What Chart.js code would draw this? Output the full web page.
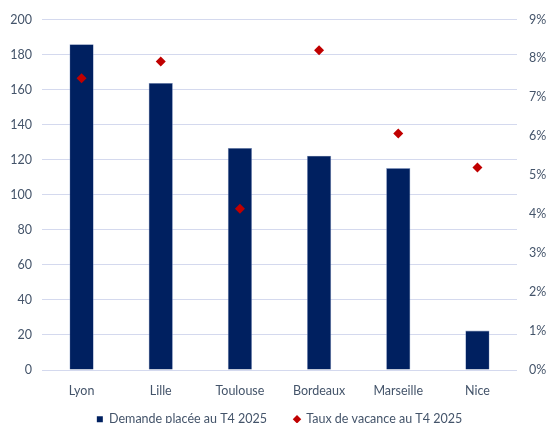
<!DOCTYPE html>
<html><head><meta charset="utf-8">
<script src="https://cdn.jsdelivr.net/npm/chart.js@4"></script>
<style>html,body{margin:0;padding:0;background:#fff}#wrap{width:547px;height:423px}</style>
</head><body><div id="wrap"><canvas id="c" width="547" height="423"></canvas></div>
<script>
const categories = ["Lyon", "Lille", "Toulouse", "Bordeaux", "Marseille", "Nice"];
const demande = [185.9, 163.8, 126.7, 122.3, 115.2, 22.5];
const vacance = [7.49, 7.92, 4.14, 8.21, 6.07, 5.2];
const seriesNames = ["Demande placée au T4 2025", "Taux de vacance au T4 2025"];

const tickColor = '#44546A';
const gridColor = '#D4D9EE';
const font = { family: 'Lato, "Open Sans", sans-serif', size: 12.5 };
const legendGap = 27;

const shiftLegend = {
  id: 'shiftLegend',
  beforeDraw(chart) {
    const lg = chart.legend;
    if (lg && !lg._shifted) {
      const ca = chart.chartArea;
      const dx = (ca.left + ca.right) / 2 - (lg.left + lg.right) / 2;
      lg.left += dx; lg.right += dx;
      lg.top = 413 - legendGap;
      lg.bottom = chart.height;
      lg._shifted = true;
    }
  }
};

new Chart(document.getElementById('c'), {
  data: {
    labels: categories,
    datasets: [
      { type: 'line', label: seriesNames[1], data: vacance, yAxisID: 'y1',
        showLine: false, pointStyle: 'rectRot', pointRadius: 5, pointHoverRadius: 5,
        backgroundColor: '#C00000', borderColor: '#C00000', borderWidth: 0, order: 0 },
      { type: 'bar', label: seriesNames[0], data: demande, yAxisID: 'y',
        backgroundColor: '#002060', borderColor: '#8EA0C8', borderWidth: 0.6,
        barPercentage: 0.6, categoryPercentage: 0.51, order: 1 }
    ]
  },
  plugins: [shiftLegend],
  options: {
    responsive: false, animation: false,
    layout: { padding: { top: 13, left: 0, right: 0, bottom: 0 } },
    plugins: {
      tooltip: { enabled: false },
      legend: { position: 'bottom', maxHeight: 18,
        labels: { usePointStyle: true, color: tickColor, font: font, boxWidth: 6, boxHeight: 6, padding: legendGap,
          generateLabels(chart) {
            return [
              { text: seriesNames[0], fillStyle: '#002060', strokeStyle: '#002060', lineWidth: 0, pointStyle: 'rect', fontColor: tickColor, datasetIndex: 1 },
              { text: seriesNames[1], fillStyle: '#C00000', strokeStyle: '#C00000', lineWidth: 0, pointStyle: 'rectRot', fontColor: tickColor, datasetIndex: 0 }
            ];
          } } }
    },
    scales: {
      x: { grid: { display: false, drawTicks: false }, border: { display: false },
           ticks: { color: tickColor, font: font, padding: 13, maxRotation: 0 },
           afterFit(s) { s.height = 35; } },
      y: { position: 'left', min: 0, max: 200,
           ticks: { stepSize: 20, color: tickColor, font: font, padding: 10 },
           grid: { color: gridColor, lineWidth: 1, drawTicks: false }, border: { display: false },
           afterFit(s) { s.width = 42; } },
      y1: { position: 'right', min: 0, max: 9,
           ticks: { stepSize: 1, color: tickColor, font: font, padding: 12, callback: v => v + '%' },
           grid: { display: false, drawTicks: false }, border: { display: false },
           afterFit(s) { s.width = 30; } }
    }
  }
});
</script></body></html>
